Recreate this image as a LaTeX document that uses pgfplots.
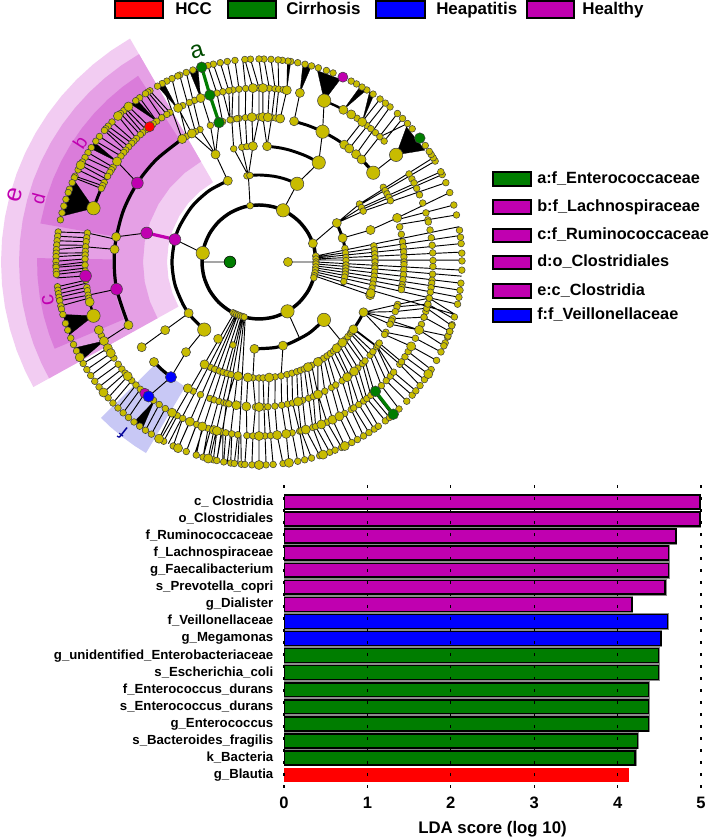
\documentclass[border=0pt]{standalone}
\usepackage{fontspec}
\setmainfont{Liberation Sans}
\usepackage{pgfplots}
\pgfplotsset{compat=1.18}
\definecolor{yel}{RGB}{200,188,0}
\definecolor{pur}{RGB}{192,0,176}
\definecolor{grn}{RGB}{0,125,0}
\definecolor{blu}{RGB}{0,0,255}
\definecolor{se}{RGB}{242,204,242}
\definecolor{sd}{RGB}{229,160,229}
\definecolor{sc}{RGB}{218,124,218}
\definecolor{sf}{RGB}{200,200,245}
\pgfplotsset{
  edge/.style={black,line width=.7pt,forget plot,data cs=polar},
  arc/.style={black,line width=#1,smooth,forget plot,data cs=polar},
  fan/.style={fill=black,draw=black,line width=.2pt,forget plot,data cs=polar},
  sector/.style={fill=#1,draw=none,forget plot,data cs=polar},
  nd/.style 2 args={only marks,mark=*,mark size=#1,forget plot,data cs=polar,
    mark options={fill=#2,draw=black!75,line width=.4pt}},
}
\begin{document}
\begin{tikzpicture}
\path[use as bounding box] (0,0) rectangle (531.75pt,628.5pt);
\begin{axis}[at={(0,0)},anchor=south west,width=531.75pt,height=628.5pt,scale only axis,
  xmin=-259,xmax=450,ymin=-576,ymax=262,hide axis,clip=false]

% shaded sectors
\addplot[sector=se] coordinates {(120,258)(125,258)(130,258)(135,258)(140,258)(145,258)(150,258)(155,258)(160,258)(165,258)(170,258)(175,258)(180,258)(185,258)(190,258)(195,258)(200,258)(205,258)(209,258)
 (209,92)(200,92)(190,92)(180,92)(170,92)(160,92)(150,92)(140,92)(130,92)(120,92)} -- cycle;
\addplot[sector=sd] coordinates {(120,240)(125,240)(130,240)(135,240)(140,240)(145,240)(150,240)(155,240)(160,240)(165,240)(170,240)(175,240)(180,240)(185,240)(190,240)(195,240)(200,240)(205,240)(209,240)
 (209,116)(200,116)(190,116)(180,116)(170,116)(160,116)(150,116)(140,116)(130,116)(120,116)} -- cycle;
\addplot[sector=sc] coordinates {(123,222)(128,222)(133,222)(138,222)(143,222)(148,222)(153,222)(158,222)(163,222)(170,222)
 (170,145)(160,145)(150,145)(140,145)(130,145)(123,145)} -- cycle;
\addplot[sector=sc] coordinates {(179,222)(184,222)(189,222)(194,222)(199,222)(203,222)(203,147)(195,147)(187,147)(179,147)} -- cycle;
\addplot[sector=sf] coordinates {(224.6,222)(228,222)(232,222)(236,222)(239.4,222)(239.4,145)(232,145)(224.6,145)} -- cycle;

% thin branches
\addplot[edge] coordinates {
(0,29)(0,57)

(180,29)(180,57)

(171,57)(165,87)

(99,57)(97,87)

(65,57)(64,87)

(19,57)(26.6,87)

(300,57)(298,87)

(6,57)(10,203)

(5,57)(7.5,203)

(4,57)(5.2,203)

(3,57)(2.8,203)

(2,57)(.5,203)

(0,57)(-2.3,203)

(-2,57)(-4,203)

(-4,57)(-6,203)

(-6,57)(-8,203)

(-8,57)(-10,203)

(-10,57)(-12,203)

(-12,57)(-15,203)

(-14,57)(-16.6,116)

(26.6,87)(30,116)

(26.6,87)(28,116)

(26.6,87)(26,116)

(16,87)(16,116)(17.7,145)

(30,116)(30.9,203)

(29.5,116)(29.8,203)

(28,116)(26.4,203)

(27,116)(25.5,203)

(26,116)(23,203)

(17.7,145)(20,203)

(17,145)(16.3,203)

(15,145)(13.4,203)

(54,145)(53.4,203)

(51.5,145)(51.5,203)

(48,145)(49.8,203)

(45,145)(47,203)

(46,174)(43,203)

(44,174)(45,203)

(38,145)(38,174)

(64,145)(68,174)

(59,116)(64,145)

(64,87)(59,116)

(76,145)(76.4,174)

(81.6,145)(80.8,174)

(83.4,145)(83.5,174)(84.6,203)

(85,145)(84.7,174)(86.6,203)

(86.5,145)(86.6,174)(88.6,203)

(88.5,145)(88.7,174)(90,203)

(90,145)(90,174)(92.4,203)

(92.8,145)(92,174)(94,203)

(95.4,145)(94.4,174)(94.6,203)

(98,145)(96.6,174)(96.8,203)

(100.8,145)(98.6,174)(99,203)

(101.5,145)(100,174)(101,203)

(101.5,145)(102,174)(103,203)

(104.5,145)(104,174)(104.6,203)

(86,116)(85,145)

(86,116)(88.5,145)

(93,116)(90,145)

(93,116)(92.8,145)

(96,116)(95.4,145)

(98.5,116)(98,145)

(102.6,116)(100.8,145)

(97,87)(93,116)

(97,87)(98.5,116)

(97,87)(102.6,116)

(111,87)(112,116)

(112,116)(109.6,145)

(112,116)(106,145)

(112,116)(114,145)

(112,116)(117.6,145)

(109.6,145)(109,203)

(114,145)(111,203)

(117.6,145)(117.7,174)

(122,145)(118.5,203)

(120,145)(115.4,203)

(116,145)(113,203)

(120.8,174)(122.5,203)

(122,174)(123.2,203)

(124,174)(124,203)

(126,174)(126,203)

(129,174)(130,203)

(130.5,174)(131,203)

(132,174)(131.8,203)

(133,174)(133,203)

(134.8,174)(134,203)

(136,174)(136.4,203)

(137,174)(138,203)

(138.5,174)(139,203)

(140,174)(139.6,203)

(141,174)(141.8,203)

(142.5,174)(143.5,203)

(147,145)(144.7,174)

(147,174)(147.4,203)

(148,174)(149,203)

(150,174)(150.5,203)

(151.5,174)(151.5,203)

(152.8,174)(153,203)

(154,174)(155,203)

(155,174)(155.5,203)

(165.5,116)(170,145)

(171,145)(170.4,174)

(175,145)(175,174)

(190.8,145)(191,174)

(205.8,145)(207,174)

(170.4,174)(171.5,203)

(172,174)(172.7,203)

(173.3,174)(174,203)

(174.5,174)(175.2,203)

(175,174)(176.5,203)

(177,174)(177.5,203)

(177.7,174)(178.5,203)

(179,174)(179.8,203)

(180,174)(181,203)

(181,174)(181.5,203)

(182,174)(182.7,203)

(183,174)(183.5,203)

(184.6,174)(184.5,203)

(186,174)(187,203)

(187,174)(188,203)

(188.4,174)(189,203)

(189.5,174)(190,203)

(191,174)(191,203)

(192,174)(192.5,203)

(209.7,174)(210,203)

(211.6,174)(212,203)

(213.5,174)(214,203)

(216,174)(216,203)

(218,174)(218,203)

(219.7,174)(220,203)

(221,174)(222,203)

(223,174)(224,203)

(225,174)(226,203)

(227,174)(228,203)

(229,174)(230,203)

(232.7,174)(234,203)

(235,174)(236,203)

(237.4,174)(238,203)

(216,87)(216,145)

(231,87)(231,116)(232.6,145)(230.6,174)

(244,57)(241,203)

(246,57)(243.5,203)

(247,57)(246.5,203)

(248,57)(249,203)

(250,57)(251.5,203)

(252,57)(254,203)

(253,57)(256,203)

(254,57)(258,203)

(255,57)(261,203)

(256,57)(264,203)

(258,116)(257,145)(258,174)(259.7,203)

(264.5,116)(265,145)(266,174)(266,203)

(267,87)(267,116)(268.6,145)(268,174)(268,203)

(270,116)(270,145)(270,174)(270,203)

(272,116)(272,145)(272,174)(272,203)

(275,116)(273.5,145)(273.8,174)(274,203)

(278,116)(276.3,145)(276,174)(276.8,203)

(281,116)(279,145)(279,174)(278.5,203)

(286,87)(281,116)

(284,116)(281.4,145)(281,174)(281,203)

(286.5,116)(283.4,145)(283.5,174)(283,203)

(289,116)(285.6,145)(284,174)(285,203)

(291,116)(287.5,145)(285.6,174)(287.4,203)

(293,116)(290,145)(288,174)(288.4,203)

(295,116)(292,145)(289,174)(290.4,203)

(297,116)(294,145)(291,174)(292,203)

(300.5,116)(294,145)(293,174)(294,203)

(302,116)(297,145)(295,174)(295,203)

(304,116)(300,145)(297.5,174)(297.2,203)

(306,116)(302,145)(299.5,174)(299,203)

(308,116)(305,145)(302,174)(301,203)

(310,116)(307.4,145)(303,174)(302.8,203)

(312,116)(308.5,145)(305,174)(304.6,203)

(314,116)(311,145)(307,174)(306,203)

(316,116)(313,145)(308.3,174)(308.5,203)

(318.3,87)(316,116)

(318,116)(315.5,145)(310,174)(310,203)

(320,116)(317,145)(311.5,174)(311,203)

(322,116)(320,145)(314.7,174)(313.6,203)

(323,116)(321.8,145)(317,174)(316.7,203)

(324.5,116)(324.2,145)(319,174)(319,203)

(325,116)(324.5,145)(320.7,174)(320.6,203)

(325,145)(324,174)(322.5,203)

(326,145)(325,174)(324.6,203)

(327,174)(326.5,203)

(329,174)(328,203)

(334.3,116)(330,145)

(334.3,116)(334.6,145)

(334.3,116)(337,145)

(334.3,116)(340,145)

(334.3,116)(343,145)

(330,145)(331,174)(331,203)

(331,145)(334,174)(333.7,203)

(334.6,145)(337,174)(335.6,203)

(336,145)(337,174)(338.6,203)

(337,145)(341.5,174)(340,203)

(340,145)(344.6,174)(341.7,203)

(342,145)(346,174)(343.7,203)

(343,145)(348,174)(345,203)

(240,174)(240.5,203)

(242,174)(242,203)

(244,174)(245,203)

(246.6,174)(246.5,203)

(249,174)(249,203)

(251,174)(252,203)

(253,174)(254,203)

(255,174)(255.5,203)

(256,174)(257,203)

(257.5,174)(258,203)

(259,174)(260,203)

(261,174)(262,203)

(263,174)(263,203)

(264,174)(265,203)
};

% dense fans, where the leaf lines merge into a black wedge
\addplot[fan] coordinates {(38,174)(34,200)(42.5,200)} -- cycle;
\addplot[fan] coordinates {(61,174)(58,203)(60,203)} -- cycle;
\addplot[fan] coordinates {(53.6,174)(55.5,203)(57,203)} -- cycle;
\addplot[fan] coordinates {(68,174)(66,200)(73,200)} -- cycle;
\addplot[fan] coordinates {(76.4,174)(75,203)(77.5,203)} -- cycle;
\addplot[fan] coordinates {(80.8,174)(81,203)(82,203)} -- cycle;
\addplot[fan] coordinates {(109.6,174)(107.5,203)(110,203)} -- cycle;
\addplot[fan] coordinates {(118,174)(118,203)(120,203)} -- cycle;
\addplot[fan] coordinates {(126,174)(127,203)(129,203)} -- cycle;
\addplot[fan] coordinates {(144.7,174)(144,203)(146,203)} -- cycle;
\addplot[fan] coordinates {(162,174)(156,203)(167,203)} -- cycle;
\addplot[fan] coordinates {(198,174)(195,203)(201,203)} -- cycle;
\addplot[fan] coordinates {(207,174)(205,203)(209,203)} -- cycle;
\addplot[fan] coordinates {(233,174)(232,203)(235,203)} -- cycle;

% thick arcs on the rings
\addplot[arc=2.6pt] coordinates {(0,57)(15,57)(30,57)(45,57)(60,57)(75,57)(90,57)(105,57)(120,57)(135,57)(150,57)(165,57)(180,57)(195,57)(210,57)(225,57)(240,57)(255,57)(270,57)(285,57)(300,57)(315,57)(330,57)(345,57)(360,57)};
\addplot[arc=2.4pt] coordinates {(111,87)(125,87)(140,87)(155,87)(165,87)(180,87)(195,87)(210,87)(220,87)(231,87)};
\addplot[arc=2.2pt] coordinates {(64,87)(72,87)(80,87)(90,87)(98,87)};
\addplot[arc=2.2pt] coordinates {(-16,87)(-8,87)(0,87)(8,87)(16,87)(26.6,87)};
\addplot[arc=2.4pt] coordinates {(-93,87)(-80,87)(-70,87)(-55,87)(-42,87)};
\addplot[arc=2.2pt] coordinates {(59,116)(66,116)(74,116)(80,116)(86,116)};
\addplot[arc=1.4pt] coordinates {(-65,116)(-55,116)(-45,116)(-35.5,116)};
\addplot[arc=2.2pt] coordinates {(-35.5,116)(-30,116)(-25.7,116)};
\addplot[arc=2.4pt] coordinates {(122,145)(135,145)(147,145)(160,145)(175,145)(190,145)(205.8,145)};
\addplot[arc=2.2pt] coordinates {(76,145)(70,145)(64,145)(58,145)(54,145)};
\addplot[arc=2.4pt] coordinates {(45,145)(41,145)(38,145)};
\addplot[arc=2.4pt] coordinates {(223.6,145)(228,145)(232.6,145)};
\addplot[arc=1.8pt] coordinates {(68,174)(64,174)(61,174)};
\addplot[arc=2.2pt] coordinates {(144.7,174)(150,174)(156,174)(162,174)};
\addplot[arc=1.8pt] coordinates {(193.3,174)(198,174)};
\addplot[grn,line width=2.4pt,forget plot,data cs=polar] coordinates {(106,145)(106.4,174)(106.4,203)};
\addplot[grn,line width=2.4pt,forget plot,data cs=polar] coordinates {(312,174)(311.4,203)};
\addplot[pur,line width=2.4pt,forget plot,data cs=polar] coordinates {(165,87)(165.5,116)};

% small nodes
\addplot[nd={2.5pt}{yel}] coordinates {
(9,203)(7,203)(5.2,203)(2.5,203)(.3,203)(-2.3,203)(-6,203)(-8,203)(-10,203)(-12,203)(-15.7,203)(-18,203)(-20,203)(-21.7,203)(-23.5,203)
(13.4,203)(16.3,203)(20,203)(23,203)(25.5,203)(26.4,203)(29.8,203)(30.9,203)(32,203)(33,203)(35,203)(41,203)(43,203)(45,203)(47,203)(49.8,203)(51.5,203)(53.4,203)(55.8,203)(57.9,203)(59.5,203)(61.3,203)(63,203)(68.6,203)(70.6,203)(73,203)(75,203)(76.9,203)(79,203)(81,203)(81.8,203)(83.4,203)(84.6,203)(86.6,203)(88.6,203)(90,203)(92.4,203)(94,203)(96.8,203)(99,203)(101,203)(103,203)(104.6,203)
(109,203)(111,203)(113,203)(113.6,203)(115.4,203)(117,203)(118.5,203)(120,203)(122.5,203)(123.2,203)(124,203)(126,203)(127.4,203)(131,203)(131.8,203)(133,203)(136.4,203)(138,203)(139,203)(139.6,203)(141.8,203)(143.5,203)(145.7,203)(147.4,203)(149,203)(150.5,203)(153,203)(155,203)(155.5,203)(157,203)(159,203)(160,203)(162,203)(164,203)(166,203)(168,203)(171.5,203)(172.7,203)(174,203)(175.2,203)(176.5,203)(177.5,203)(178.5,203)(179.8,203)(181,203)(181.5,203)(182.7,203)(183.5,203)(187,203)(188,203)(189,203)(190,203)(191,203)(192.5,203)(193.4,203)(195,203)(197.6,203)(199.6,203)(202,203)(204,203)(206,203)(210,203)(212,203)(214,203)(216,203)(218,203)(222,203)(224,203)(226,203)(228,203)(230,203)(232,203)(234,203)(236,203)(238,203)(242,203)(245,203)(249,203)(252,203)(254,203)(257,203)(258,203)(260,203)(262,203)(263,203)(265,203)(266,203)(268,203)(272,203)(274,203)(276.8,203)(281,203)(283,203)(285,203)(287.4,203)(290.4,203)(292,203)(294,203)(297.2,203)(299,203)(301,203)(302.8,203)(304.6,203)(306,203)(308.5,203)(310,203)(313.6,203)(316.7,203)(319,203)(320.6,203)(322.5,203)(324.6,203)(328,203)(331,203)(333.7,203)(335.6,203)(338.6,203)(340,203)(341.7,203)
(30.4,174)(28.5,174)(27,174)(25,174)(22.7,174)(19.8,174)(16.4,174)(14,174)(13.3,174)(10.6,174)(8,174)(5.5,174)(3,174)(.5,174)(-1.5,174)(-4,174)(-6,174)(-7,174)(-8.5,174)(-10,174)(-12,174)(-14,174)(-16.5,174)(-18.5,174)(-21,174)
(51.6,174)(50,174)(48,174)(46,174)(44,174)(55.7,174)
(98.6,174)(96.6,174)(94.4,174)(90,174)(86.6,174)(84.7,174)(83.5,174)(82,174)(100,174)(102,174)(104,174)(111.7,174)(113.6,174)(116,174)
(120.8,174)(122,174)(124,174)(126,174)(127.5,174)(130.5,174)(132,174)(133,174)(134.8,174)(136,174)(137,174)(138.5,174)(140,174)(141,174)(142.5,174)(147,174)(148,174)(149,174)(150.5,174)(152.8,174)(154,174)(155,174)
(170.4,174)(172,174)(173.3,174)(175,174)(176.5,174)(177.7,174)(179,174)(181,174)(183,174)(186,174)(188.4,174)(189.5,174)(191,174)(192,174)(205,174)
(213.5,174)(216,174)(218,174)(219.7,174)(223,174)(225,174)(227,174)(232.7,174)(235,174)(237.4,174)(242,174)(244,174)(249,174)(253,174)(257.5,174)(259,174)(261,174)(263,174)(266,174)(268,174)(272,174)(273.8,174)(281,174)(283.5,174)(284,174)(288,174)(289,174)(293,174)(299.5,174)(302,174)(303,174)(305,174)(307,174)(308.3,174)(310,174)(311.5,174)(314.7,174)(317,174)(319,174)(320.7,174)(324,174)(325,174)(327,174)(329,174)(334,174)(341.5,174)(344.6,174)(346,174)(348,174)
(31,145)(29.5,145)(28,145)(26.5,145)(25,145)(14,145)(11,145)(8,145)(6,145)(4,145)(2,145)(0,145)(-1,145)(-3,145)(-5,145)(-7,145)(-9,145)(-10,145)(-11,145)
(100.8,145)(98,145)(95.4,145)(90,145)(85,145)(83.4,145)(101.5,145)(98.8,145)(104.5,145)(109.6,145)(114,145)(116,145)(120,145)
(243,145)(246.2,145)(250.2,145)(252,145)(254,145)(256,145)(257,145)(258,145)(260.5,145)(268.6,145)(272,145)(273.5,145)(276.3,145)(279,145)(281.4,145)(283.4,145)(287.5,145)(290,145)(292,145)(297,145)(300,145)(302,145)(305,145)(308.5,145)(313,145)(315.5,145)(317,145)(320,145)(321.8,145)(324.2,145)(325,145)(326,145)(343,145)(342,145)(340,145)(337,145)(336,145)(334.6,145)(331,145)(330,145)
(30,116)(28,116)(26,116)(8,116)(6,116)(4,116)(2,116)(0,116)(-2,116)(-3,116)(-5,116)(-7,116)(-9,116)(-11,116)(-13,116)
(102.6,116)(98.5,116)(96,116)(245.4,116)(247.6,116)(250,116)(252,116)(254,116)(256,116)(264,116)(267,116)(270,116)(272,116)(278,116)(281,116)(284,116)(286.5,116)(289,116)(291,116)(293,116)(297,116)(302,116)(304,116)(306,116)(308,116)(310,116)(314,116)(318,116)(320,116)(322,116)(323,116)
(98,87)(96,87)(252.6,87)(9,87)(6,87)(3,87)(1,87)(-2,87)(-4,87)(-6,87)(-8,87)(-10,87)(-13,87)
(99,57)(6,57)(3,57)(0,57)(-2,57)(-5,57)(-8,57)(-11,57)(-14,57)(-16,57)(243,57)(245,57)(247,57)(249,57)(251,57)(253,57)(255,57)
};
% medium nodes
\addplot[nd={3.4pt}{yel}] coordinates {
(208,203)(151.5,203)(130,203)(134,203)(240.5,203)(246.5,203)(255.5,203)(270,203)(278.5,203)(288.4,203)(295,203)(326.5,203)(-16.6,116)
(92,174)(88.7,174)(80.8,174)(76.4,174)(61,174)(58,174)(53.6,174)(109.6,174)(117.7,174)(144.7,174)(193.3,174)(203,174)(207,174)(209.7,174)(211.6,174)(221,174)(240,174)(246.6,174)(251,174)(255,174)(256,174)(270,174)(276,174)(279,174)(285.6,174)(291,174)(295,174)(297.5,174)(331,174)(337,174)
(92.8,145)(88.5,145)(86.5,145)(81.6,145)(76,145)(54,145)(51.5,145)(48,145)(45,145)(17.7,145)(117.6,145)(122,145)(170,145)(175,145)(205.8,145)(216,145)(223.6,145)(240.6,145)(261,145)(265,145)(270,145)(285.6,145)(294,145)(307.4,145)(311,145)
(93,116)(86,116)(112,116)(16,116)(216,116)(231,116)(242,116)(259.6,116)(264.5,116)(275,116)(295,116)(300.5,116)(312,116)(316,116)(324.5,116)(334.3,116)(-15.6,116)
(111,87)(26.6,87)(16,87)(216,87)(242,87)(267,87)(286,87)
(0,29)(19,57)(220,203)
};
% large nodes
\addplot[nd={5pt}{yel}] coordinates {
(68,174)(162,174)(198,174)(38,174)(64,145)(38,145)(59,116)(64,87)(231,87)(-41.7,87)(171,57)(65,57)(-60,57)
};
% coloured nodes
\addplot[nd={4.4pt}{pur}] coordinates {(165,87)(165.5,116)(147,145)(190.8,145)(184.6,174)};
\addplot[nd={3.8pt}{pur}] coordinates {(229,174)(65.6,203)};
\addplot[nd={3.8pt}{red}] coordinates {(129,174)};
\addplot[nd={4.2pt}{blu}] coordinates {(230.6,174)(232.6,145)};
\addplot[nd={4pt}{grn}] coordinates {(106,145)(106.4,174)(106.4,203)(312,174)(311.4,203)(37.6,203)};
\addplot[only marks,mark=*,mark size=4.4pt,mark options={fill=grn,draw=none},forget plot,data cs=polar] coordinates {(180,29)};

% sector letters
\node[text=grn!60!black,font=\fontsize{18}{18}\selectfont,rotate=16] at (axis cs:-62,210) {a};
\node[text=pur,font=\fontsize{14}{14}\selectfont,rotate=57] at (axis cs:-179,119) {b};
\node[text=pur,font=\fontsize{16}{16}\selectfont,rotate=100] at (axis cs:-211,-38) {c};
\node[text=pur,font=\fontsize{14}{14}\selectfont,rotate=75] at (axis cs:-221,63) {d};
\node[text=pur,font=\fontsize{19}{19}\selectfont,rotate=75,inner sep=0pt] at (axis cs:-244,67) {e};
\node[text=blu!60!black,font=\fontsize{14}{14}\selectfont,rotate=142] at (axis cs:-136,-171) {f};

% top legend
\draw[fill=red,line width=1.5pt] (axis cs:-144,261) rectangle (axis cs:-96,244);
\node[anchor=base west,inner sep=0pt,font=\bfseries\fontsize{12.7}{14}\selectfont] at (axis cs:-84,247) {HCC};
\draw[fill=grn,line width=1.5pt] (axis cs:-31,261) rectangle (axis cs:17,244);
\node[anchor=base west,inner sep=0pt,font=\bfseries\fontsize{12.7}{14}\selectfont] at (axis cs:27,247) {Cirrhosis};
\draw[fill=blu,line width=1.5pt] (axis cs:117,261) rectangle (axis cs:166,244);
\node[anchor=base west,inner sep=0pt,font=\bfseries\fontsize{12.7}{14}\selectfont] at (axis cs:177,247) {Heapatitis};
\draw[fill=pur,line width=1.5pt] (axis cs:268,261) rectangle (axis cs:315,244);
\node[anchor=base west,inner sep=0pt,font=\bfseries\fontsize{12.7}{14}\selectfont] at (axis cs:323,247) {Healthy};

% side legend
\draw[fill=grn,line width=1.1pt] (axis cs:234,90) rectangle (axis cs:272,76);
\node[anchor=base west,inner sep=0pt,font=\bfseries\fontsize{12.2}{14}\selectfont] at (axis cs:278,78) {a:f\_Enterococcaceae};
\draw[fill=pur,line width=1.1pt] (axis cs:234,62) rectangle (axis cs:272,48);
\node[anchor=base west,inner sep=0pt,font=\bfseries\fontsize{12.2}{14}\selectfont] at (axis cs:278,50) {b:f\_Lachnospiraceae};
\draw[fill=pur,line width=1.1pt] (axis cs:234,33) rectangle (axis cs:272,20);
\node[anchor=base west,inner sep=0pt,font=\bfseries\fontsize{12.2}{14}\selectfont] at (axis cs:278,22) {c:f\_Ruminococcaceae};
\draw[fill=pur,line width=1.1pt] (axis cs:234,6) rectangle (axis cs:272,-7);
\node[anchor=base west,inner sep=0pt,font=\bfseries\fontsize{12.2}{14}\selectfont] at (axis cs:278,-5) {d:o\_Clostridiales};
\draw[fill=pur,line width=1.1pt] (axis cs:234,-22) rectangle (axis cs:272,-36);
\node[anchor=base west,inner sep=0pt,font=\bfseries\fontsize{12.2}{14}\selectfont] at (axis cs:278,-34) {e:c\_Clostridia};
\draw[fill=blu,line width=1.1pt] (axis cs:234,-47) rectangle (axis cs:272,-60);
\node[anchor=base west,inner sep=0pt,font=\bfseries\fontsize{12.2}{14}\selectfont] at (axis cs:278,-58) {f:f\_Veillonellaceae};
\end{axis}

% LDA bars
\begin{axis}[at={(213pt,34.5pt)},anchor=south west,width=312.75pt,height=230.25pt,scale only axis,
  xmin=0,xmax=5,ymin=-1,ymax=17,y dir=reverse,
  xbar,bar shift=0pt,bar width=10.4pt,axis on top,
  axis line style={draw=none},tick style={draw=none},
  xtick={0,1,2,3,4,5},ytick={0,...,16},
  xmajorgrids,grid style={black,line width=.8pt,dash pattern=on 2pt off 7pt},
  /pgf/number format/assume math mode=true,
  xticklabel style={font=\bfseries\fontsize{12.4}{13}\selectfont},
  yticklabel style={font=\bfseries\fontsize{9.9}{11}\selectfont,text height=7.2pt,text depth=2pt,xshift=-4.5pt},
  yticklabels={c\_ Clostridia,o\_Clostridiales,f\_Ruminococcaceae,f\_Lachnospiraceae,g\_Faecalibacterium,s\_Prevotella\_copri,g\_Dialister,f\_Veillonellaceae,g\_Megamonas,g\_unidentified\_Enterobacteriaceae,s\_Escherichia\_coli,f\_Enterococcus\_durans,s\_Enterococcus\_durans,g\_Enterococcus,s\_Bacteroides\_fragilis,k\_Bacteria,g\_Blautia},
  xlabel={LDA score (log 10)},
  xlabel style={font=\bfseries\fontsize{12.6}{14}\selectfont,yshift=-2.5pt},
  major tick length=0pt]
\addplot[draw=black,line width=1.2pt,fill=pur,preaction={draw=black!45,line width=2.2pt}] coordinates {(4.99,0)(4.99,1)(4.70,2)(4.61,3)(4.61,4)(4.57,5)(4.17,6)};
\addplot[draw=black,line width=1.2pt,fill=blu,preaction={draw=black!45,line width=2.2pt}] coordinates {(4.60,7)(4.52,8)};
\addplot[draw=black,line width=1.2pt,fill=grn,preaction={draw=black!45,line width=2.2pt}] coordinates {(4.49,9)(4.49,10)(4.37,11)(4.37,12)(4.37,13)(4.24,14)(4.21,15)};
\addplot[draw=none,fill=red] coordinates {(4.14,16)};
\end{axis}
\end{tikzpicture}
\end{document}
